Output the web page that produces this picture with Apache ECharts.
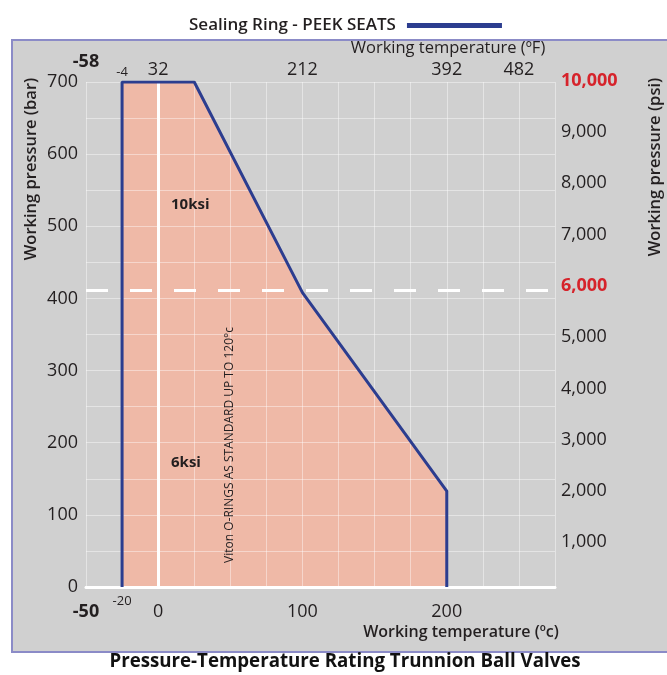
<!DOCTYPE html>
<html><head><meta charset="utf-8">
<script src="https://cdn.jsdelivr.net/npm/echarts@6/dist/echarts.min.js"></script>
<style>html,body{margin:0;padding:0;background:#fff}#c{width:667px;height:675px}</style>
</head><body><div id="c"></div>
<script>
// ---- data ----
const seriesName = 'Sealing Ring - PEEK SEATS';
const tempC = [-25, -25, 25, 100, 200, 200];
const pressureBar = [0, 700, 700, 408, 133, 0];
const celsiusTicks = [-50, 0, 100, 200];
const fahrenheitTickPos = [-50, 0, 100, 200, 250];
const fahrenheitTicks = ['-58', '32', '212', '392', '482'];
const lowLimitPos = -25;
const lowLimitC = '-20';
const lowLimitF = '-4';
const barTicks = [0, 100, 200, 300, 400, 500, 600, 700];
const psiTicks = [1000, 2000, 3000, 4000, 5000, 6000, 7000, 8000, 9000, 10000];
const psiHighlight = [6000, 10000];
const limit6ksiBar = 411;

const FONT = 'Open Sans';
const TXT = '#231f20';
const RED = '#d6232b';

const chart = echarts.init(document.getElementById('c'));
const gridLine = {lineStyle: {color: 'rgba(255,255,255,0.42)', width: 1}};
const points = tempC.map((t, i) => [t, pressureBar[i]]);

chart.setOption({
  animation: false,
  textStyle: {fontFamily: FONT, color: TXT},
  legend: {
    data: [seriesName], left: 184, top: 12, align: 'right',
    icon: 'rect', itemWidth: 95, itemHeight: 5,
    textStyle: {fontFamily: FONT, fontSize: 17, fontWeight: 600, color: TXT, padding: [0, 6, 0, 0]}
  },
  grid: [
    {left: 86, right: 112, top: 82, bottom: 88},
    {left: 86, right: 112, top: 80.7, bottom: 81.4}
  ],
  xAxis: [
    {
      gridIndex: 0, type: 'value', position: 'bottom', min: -50, max: 275, interval: 25, z: 5,
      axisLine: {show: true, lineStyle: {color: '#fff', width: 3}},
      axisTick: {show: false}, splitLine: gridLine,
      axisLabel: {
        margin: 7, color: TXT, fontFamily: FONT,
        formatter: v => celsiusTicks.includes(v) ? (v === celsiusTicks[0] ? '{b|' + v + '}' : '{n|' + v + '}')
                        : (v === lowLimitPos ? '{s|' + lowLimitC + '}' : ''),
        rich: {
          b: {fontSize: 18, fontWeight: 'bold', padding: [9, 0, 0, 0], color: TXT, fontFamily: FONT},
          n: {fontSize: 18, padding: [9, 0, 0, 0], color: TXT, fontFamily: FONT},
          s: {fontSize: 13, padding: [1, 0, 0, 0], color: TXT, fontFamily: FONT}
        }
      }
    },
    {
      gridIndex: 0, type: 'value', position: 'top', min: -50, max: 275, interval: 25, z: 5,
      axisLine: {show: true, lineStyle: {color: '#fff', width: 2}},
      axisTick: {show: false}, splitLine: {show: false},
      axisLabel: {
        margin: 3, color: TXT, fontFamily: FONT,
        formatter: v => {
          const i = fahrenheitTickPos.indexOf(v);
          if (i === 0) return '{b|' + fahrenheitTicks[i] + '}';
          if (i > 0) return '{n|' + fahrenheitTicks[i] + '}';
          if (v === lowLimitPos) return '{s|' + lowLimitF + '}';
          return '';
        },
        rich: {
          b: {fontSize: 18, fontWeight: 'bold', padding: [0, 0, 8, 0], color: TXT, fontFamily: FONT},
          n: {fontSize: 18, color: TXT, fontFamily: FONT},
          s: {fontSize: 13, color: TXT, fontFamily: FONT}
        }
      }
    },
    {gridIndex: 1, type: 'value', min: -50, max: 275, show: false}
  ],
  yAxis: [
    {
      gridIndex: 0, type: 'value', position: 'left', min: 0, max: 700, interval: 50, z: 5,
      axisLine: {show: true, lineStyle: {color: '#fff', width: 1.5}},
      axisTick: {show: false}, splitLine: gridLine,
      axisLabel: {margin: 8, fontSize: 18, color: TXT, fontFamily: FONT,
        formatter: v => barTicks.includes(v) ? String(v) : ''}
    },
    {
      gridIndex: 0, type: 'value', position: 'right', min: 0, max: 700, interval: 50, z: 5,
      axisLine: {show: true, lineStyle: {color: '#fff', width: 2}},
      axisTick: {show: false}, splitLine: {show: false}, axisLabel: {show: false}
    },
    {
      gridIndex: 1, type: 'value', position: 'right', min: 0, max: 10000, interval: 1000,
      axisLine: {show: false}, axisTick: {show: false}, splitLine: {show: false},
      axisLabel: {
        margin: 6, fontFamily: FONT,
        formatter: v => !psiTicks.includes(v) ? '' :
          (psiHighlight.includes(v) ? '{r|' + v.toLocaleString('en-US') + '}' : '{n|' + v.toLocaleString('en-US') + '}'),
        rich: {
          r: {fontSize: 18, fontWeight: 'bold', color: RED, fontFamily: FONT},
          n: {fontSize: 18, color: TXT, fontFamily: FONT}
        }
      }
    }
  ],
  series: [
    {
      name: 'fill', type: 'line', xAxisIndex: 0, yAxisIndex: 0, z: 1,
      data: points, symbol: 'none', silent: true,
      lineStyle: {width: 0, opacity: 0},
      areaStyle: {color: '#efb9a7', opacity: 1}
    },
    {
      name: seriesName, type: 'line', xAxisIndex: 0, yAxisIndex: 0, z: 10,
      data: points, symbol: 'none', color: '#2c3d8f',
      lineStyle: {color: '#2c3d8f', width: 3},
      markLine: {
        silent: true, symbol: 'none', label: {show: false},
        data: [
          {xAxis: 0, lineStyle: {color: '#fff', width: 3, type: 'solid'}},
          {yAxis: limit6ksiBar, lineStyle: {color: '#fff', width: 3, type: [22, 22]}}
        ]
      }
    }
  ],
  graphic: [
    {type: 'rect', z: -100, shape: {x: 12, y: 40, width: 670, height: 612},
     style: {fill: '#d0d0d0', stroke: '#8b8bc7', lineWidth: 2}},
    {type: 'text', z: 100, x: 448, y: 48, style: {text: 'Working temperature (ºF)', font: '16.5px "Open Sans"', fill: TXT, align: 'center', verticalAlign: 'middle'}},
    {type: 'text', z: 100, x: 461, y: 632, style: {text: 'Working temperature (ºc)', font: '600 16px "Open Sans"', fill: TXT, align: 'center', verticalAlign: 'middle'}},
    {type: 'text', z: 100, x: 31, y: 169, rotation: Math.PI / 2, style: {text: 'Working pressure (bar)', font: '600 16.5px "Open Sans"', fill: TXT, align: 'center', verticalAlign: 'middle'}},
    {type: 'text', z: 100, x: 655, y: 167, rotation: Math.PI / 2, style: {text: 'Working pressure (psi)', font: '600 16.5px "Open Sans"', fill: TXT, align: 'center', verticalAlign: 'middle'}},
    {type: 'text', z: 100, x: 171, y: 205, style: {text: '10ksi', font: 'bold 15px "Open Sans"', fill: TXT, align: 'left', verticalAlign: 'middle'}},
    {type: 'text', z: 100, x: 171, y: 463, style: {text: '6ksi', font: 'bold 15px "Open Sans"', fill: TXT, align: 'left', verticalAlign: 'middle'}},
    {type: 'text', z: 100, x: 230, y: 445, rotation: Math.PI / 2, style: {text: 'Viton O-RINGS AS STANDARD UP TO 120°c', font: '12px "Liberation Sans Narrow", "Open Sans"', fill: TXT, align: 'center', verticalAlign: 'middle'}},
    {type: 'text', z: 100, x: 345, y: 662, style: {text: 'Pressure-Temperature Rating Trunnion Ball Valves', font: 'bold 18.7px "Open Sans"', fill: '#111', align: 'center', verticalAlign: 'middle'}}
  ]
});
</script></body></html>
